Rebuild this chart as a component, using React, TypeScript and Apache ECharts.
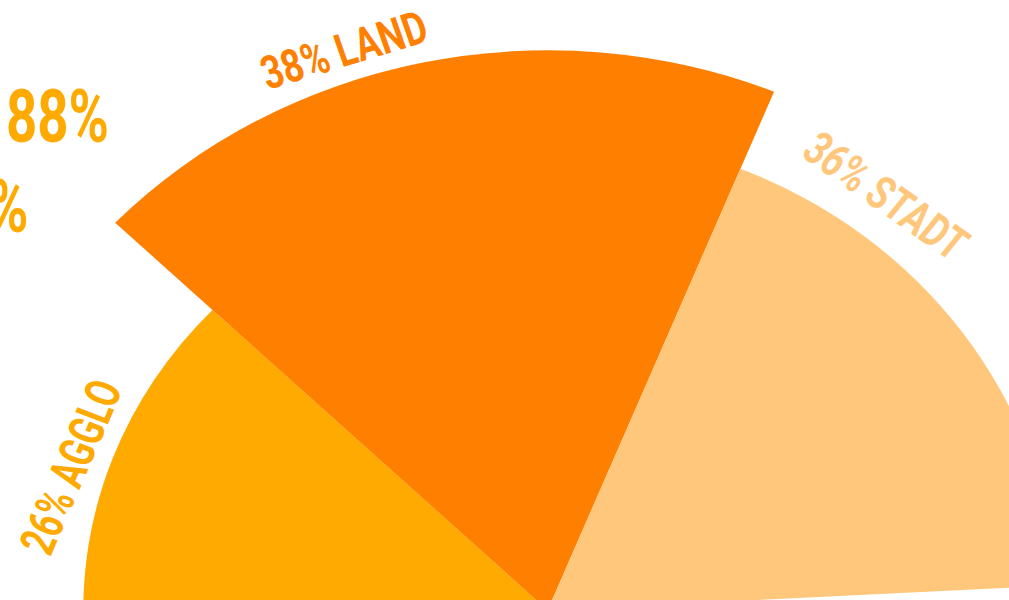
import React, { useEffect, useRef } from 'react';
import * as echarts from 'echarts';

// ---- data ----
const categories = ['AGGLO', 'LAND', 'STADT'];
const shares = [26, 38, 36];
const hiddenShare = 100; // lower half of the circle, below the page
const sideTexts = ['88%', '%'];

// ---- styling / layout ----
const colors = ['#FFAA00', '#FF7F00', '#FFC77C'];
const radii = [434, 560, 477];
const STRETCH = 1.07;
const W = 1009 / STRETCH;
const H = 600;
const CX = 511.8;
const CY = 610.3;
const FONT = 'Roboto, "Liberation Sans", sans-serif';

const labelLayout = [
  { x: 66.4, y: 467, rot: 68 },
  { x: 321.5, y: 50, rot: 18 },
  { x: 828, y: 196, rot: -37 },
];
const sideLayout = [
  { x: 53.7, y: 116.5, align: 'center' },
  { x: 26.5, y: 206.5, align: 'right' },
];

export default function App() {
  const ref = useRef<HTMLDivElement>(null);
  useEffect(() => {
    if (!ref.current) return;
    const chart = echarts.init(ref.current, null, { renderer: 'svg' });
    const series = categories.map((_, i) => ({
      type: 'pie',
      center: [CX, CY],
      radius: [0, radii[i]],
      startAngle: 183,
      clockwise: true,
      silent: true,
      avoidLabelOverlap: false,
      label: { show: false },
      labelLine: { show: false },
      emphasis: { disabled: true },
      itemStyle: { borderWidth: 0 },
      data: [
        ...categories.map((name, j) => ({
          name,
          value: shares[j],
          itemStyle: { color: j === i ? colors[j] : 'rgba(0,0,0,0)', borderWidth: 0 },
        })),
        { name: 'rest', value: hiddenShare, itemStyle: { color: 'rgba(0,0,0,0)', borderWidth: 0 } },
      ],
    }));
    const labels = categories.map((name, i) => ({
      type: 'text',
      x: labelLayout[i].x,
      y: labelLayout[i].y,
      rotation: (labelLayout[i].rot * Math.PI) / 180,
      scaleX: 0.74,
      silent: true,
      style: {
        text: `${shares[i]}% ${name}`,
        fill: colors[i],
        fontFamily: FONT,
        fontWeight: 'bold',
        fontSize: 46,
        align: 'center',
        verticalAlign: 'middle',
        textAlign: 'center',
        textVerticalAlign: 'middle',
      },
    }));
    const side = sideTexts.map((t, i) => ({
      type: 'text',
      x: sideLayout[i].x,
      y: sideLayout[i].y,
      scaleX: 0.69,
      silent: true,
      style: {
        text: t,
        fill: colors[0],
        fontFamily: FONT,
        fontWeight: 'bold',
        fontSize: 74,
        align: sideLayout[i].align,
        verticalAlign: 'middle',
        textAlign: sideLayout[i].align,
        textVerticalAlign: 'middle',
      },
    }));
    chart.setOption({
      animation: false,
      backgroundColor: '#ffffff',
      series,
      graphic: [...labels, ...side],
    });
    return () => chart.dispose();
  }, []);
  return (
    <div style={{ position: 'absolute', left: 0, top: 0, width: 1009, height: H, overflow: 'hidden', background: '#fff' }}>
      <div
        ref={ref}
        style={{
          position: 'absolute',
          left: 0,
          top: 0,
          width: W,
          height: H,
          transform: `scaleX(${STRETCH})`,
          transformOrigin: '0 0',
        }}
      />
    </div>
  );
}
